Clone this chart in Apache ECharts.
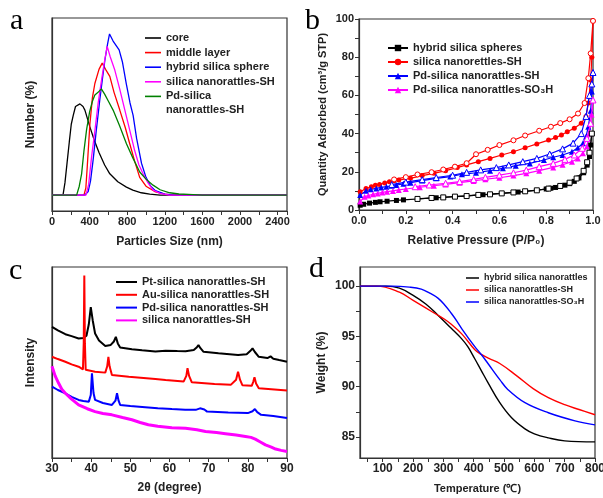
<!DOCTYPE html>
<html>
<head>
<meta charset="utf-8">
<script src="https://cdn.jsdelivr.net/npm/echarts@6/dist/echarts.min.js"></script>
<style>
  html, body { margin: 0; padding: 0; background: #fff; }
  #main { width: 603px; height: 498px; }
</style>
</head>
<body>
<div id="main"></div>
<script>
// ---- panel a : particle size distribution (nm, number %) ----
var sizeCore = [[0,0],[117,0],[138,7],[160,18],[184,30],[205,40],[226,45],[250,50],[297,51.5],[330,50],[350,48],[403,38.5],[450,31],[500,24],[560,17],[615,12],[700,7.5],[792,4.5],[860,2.8],[950,1.3],[1040,0.5],[1150,0],[2500,0]];
var sizeMiddle = [[0,0],[340,0],[360,4],[375,16],[403,40],[430,55],[456,63],[500,71],[534,74.5],[570,71],[615,67],[660,58],[721,48],[780,38],[827,29],[880,19],[933,10],[1000,5],[1093,2],[1200,0.5],[1300,0],[2500,0]];
var sizeHybrid = [[0,0],[350,0],[385,2],[410,8],[438,20],[470,36],[509,54],[535,65],[562,76],[590,85],[612,91],[650,87],[714,82],[750,75],[790,63],[830,52],[863,45],[900,32],[952,18],[1000,10],[1050,5],[1100,2.5],[1200,0.5],[1300,0],[2500,0]];
var sizeSilicaSH = [[0,0],[361,0],[390,6],[421,21.6],[460,38],[491,52],[530,66],[560,76],[587,84],[620,78],[668,70.6],[720,60],[775,48],[830,36],[880,25],[925,17],[969,12],[1020,7],[1075,2.8],[1150,1],[1250,0],[2500,0]];
var sizePdSH = [[0,0],[262,0],[290,5],[315,12],[340,25],[368,37],[400,47],[430,53],[456,56.5],[490,58],[525,60],[560,57],[600,53],[650,48],[720,39],[792,29],[860,21],[933,13],[1000,9],[1075,5.6],[1150,3],[1252,1.3],[1350,0.6],[1500,0.3],[1600,0],[2500,0]];

// ---- panel b : N2 isotherms (P/P0, cm3/g), adsorption + desorption ----
var isoHybridAds = [[0.005,2.5],[0.02,3.0],[0.045,3.6],[0.07,4.0],[0.09,4.3],[0.12,4.6],[0.16,5.0],[0.19,5.3],[0.33,6.4],[0.53,8.0],[0.68,9.4],[0.8,11.0],[0.82,11.4],[0.84,11.8],[0.86,12.3],[0.88,13.0],[0.9,13.8],[0.92,15.0],[0.94,16.8],[0.96,19.5],[0.975,23.5],[0.985,28],[0.99,34],[0.995,40]];
var isoHybridDes = [[0.995,40],[0.985,30],[0.975,25],[0.96,20.5],[0.93,16.5],[0.9,14.3],[0.86,12.6],[0.81,11.2],[0.76,10.3],[0.71,9.8],[0.66,9.2],[0.61,8.7],[0.56,8.2],[0.51,7.9],[0.46,7.3],[0.41,7.0],[0.36,6.6],[0.31,6.3],[0.25,5.8]];
var isoSilicaAds = [[0.005,9.6],[0.03,11.2],[0.053,12.2],[0.07,12.9],[0.088,13.4],[0.11,14.2],[0.13,14.8],[0.15,15.3],[0.17,15.7],[0.22,16.6],[0.27,18.0],[0.32,19.2],[0.37,20.6],[0.42,22.2],[0.46,23.6],[0.51,25.3],[0.56,27.0],[0.61,28.8],[0.66,30.5],[0.71,32.6],[0.76,34.6],[0.81,36.6],[0.84,37.9],[0.865,39.3],[0.89,41.0],[0.92,42.8],[0.95,45.4],[0.97,49],[0.98,56],[0.99,68],[0.995,80],[1.0,99]];
var isoSilicaDes = [[1.0,99],[0.99,82],[0.98,69],[0.964,56],[0.936,50.5],[0.9,47.5],[0.86,45.5],[0.82,43.6],[0.77,41.5],[0.71,39],[0.66,36.5],[0.6,34],[0.55,31.5],[0.5,29.2],[0.46,24.5],[0.41,22.7],[0.36,21.2],[0.31,19.8],[0.25,18.6],[0.2,17.2],[0.15,16.0]];
var isoPdAds = [[0.005,7.9],[0.03,10.1],[0.05,10.8],[0.074,11.3],[0.095,11.8],[0.117,12.2],[0.14,12.7],[0.16,13.1],[0.19,13.7],[0.22,14.3],[0.27,15.4],[0.33,16.6],[0.39,17.5],[0.44,18.7],[0.5,19.5],[0.56,20.6],[0.615,21.8],[0.67,23.2],[0.73,24.4],[0.79,26.2],[0.83,27.6],[0.87,28.8],[0.91,30.5],[0.935,32.6],[0.957,34.9],[0.97,38.4],[0.98,43.6],[0.99,52],[0.995,62],[1.0,72]];
var isoPdDes = [[1.0,72],[0.995,66],[0.985,60],[0.97,49],[0.95,40],[0.915,35],[0.87,32],[0.815,29.3],[0.76,27],[0.7,25.3],[0.64,23.6],[0.587,22.2],[0.52,21],[0.46,19.7],[0.4,18.2],[0.33,17.0],[0.27,15.9],[0.2,14.6],[0.14,13.3]];
var isoSO3HAds = [[0.005,4.4],[0.024,7],[0.04,7.6],[0.06,8.2],[0.08,8.7],[0.1,9.2],[0.12,9.6],[0.145,10],[0.17,10.5],[0.2,11],[0.26,11.9],[0.32,12.7],[0.37,13.4],[0.43,14.3],[0.49,15.2],[0.54,16.1],[0.6,16.9],[0.66,18],[0.715,19.2],[0.77,20.6],[0.83,22.3],[0.87,23.7],[0.91,25.3],[0.935,27],[0.957,29.7],[0.974,33.2],[0.985,40],[0.994,50],[1.0,57.6]];
var isoSO3HDes = [[1.0,57.6],[0.99,45.4],[0.974,37.5],[0.954,32.3],[0.92,28.8],[0.88,26.5],[0.83,24.4],[0.77,22.7],[0.715,20.9],[0.66,19.5],[0.6,18.3],[0.54,17.1],[0.49,16],[0.43,14.9],[0.37,14],[0.3,13.1],[0.24,12.2]];

// ---- panel c : XRD patterns (2theta, arbitrary intensity) ----
var xrdPt = [[30,68.7],[31.5,66.8],[33.4,64.8],[35,63.8],[36.8,62.6],[38,62.8],[38.8,64],[39.4,70],[39.9,79],[40.4,72],[41,65.2],[42,61.5],[43.6,58.6],[45,59.2],[45.8,61],[46.3,63.4],[46.8,60],[47.4,57.9],[50.4,56.9],[53,56.4],[56.4,55.8],[59,56.2],[62,56.0],[64.1,55.9],[66.2,56.5],[67,58],[67.4,59.1],[67.9,57.5],[68.7,55.6],[72.5,54.8],[77.5,53.9],[79.7,54.3],[80.6,56],[81.2,57.4],[81.8,55.5],[82.8,53],[85,52.3],[85.8,53.2],[86.5,52],[88,51.3],[90,50.4]];
var xrdAu = [[30,53],[31.5,51.8],[33.4,50.4],[35,49],[36.8,47.8],[37.9,46.4],[38.1,60],[38.25,95.6],[38.4,60],[38.6,46.2],[41,45.2],[43.6,44.7],[44.1,48],[44.4,53],[44.7,48],[45.3,43.5],[49.6,42.6],[56.4,41.4],[59,40.8],[63.6,40],[64.3,43],[64.6,47],[65,43],[65.7,39.6],[71.5,38.8],[75.7,38.4],[77,41],[77.5,45.2],[78,41],[78.6,38.1],[81,37.8],[81.4,40],[81.7,42.3],[82.1,39],[82.8,36.5],[86,36],[90,35.3]];
var xrdPd = [[30,37.4],[31.5,35.6],[33.4,33.9],[35,32],[36.8,30.4],[38,29.8],[39.4,29.5],[39.9,33],[40.2,44.3],[40.6,34],[41,30.4],[43,28.8],[45.3,27.8],[46.2,30],[46.6,33.9],[47,30],[47.4,27.8],[50,27.2],[53.8,26.6],[57,26],[60.6,25.6],[64,25.3],[66.7,25.2],[67.8,26],[68.3,26.9],[68.9,25.4],[69.6,24.3],[75,23.8],[80,23.5],[81.2,24.5],[81.8,25.6],[82.4,24],[83.4,22.6],[86.5,22],[90,20.9]];
var xrdSilica = [[30,48],[30.8,43],[31.7,39.1],[32.5,36],[33.4,33.9],[35,30.8],[36.8,27.8],[39,25.8],[41,24.3],[43,23.3],[45.3,22.6],[48,21.2],[50.4,20],[52.5,18.6],[54.6,17.4],[57,16.6],[60.6,15.8],[64.1,15.6],[67,14.8],[69.2,13.9],[72,13.3],[74.3,12.7],[77,12.0],[79.4,11.3],[80.8,10.8],[81.9,9.9],[83.2,8.4],[84.5,6.9],[86,5.7],[87.1,4.7],[88.5,4],[90,3.4]];

// ---- panel d : TGA (temperature C, weight %) ----
var tgaHybrid = [[25,100],[110,100],[155,99.8],[199,99.1],[243,98.2],[282,97.1],[326,95.8],[359,94.8],[380,94.0],[403,92.8],[425,91.6],[447,90.4],[486,88.4],[525,86.9],[569,85.8],[600,85.3],[646,84.9],[700,84.6],[800,84.5]];
var tgaSH = [[25,100],[80,100],[155,99.4],[199,98.6],[243,97.8],[282,97.1],[304,96.7],[326,96.2],[362,95.2],[403,93.7],[425,93.2],[450,92.8],[486,92.3],[541,91.1],[596,89.8],[646,88.9],[700,88.2],[750,87.7],[800,87.2]];
var tgaSO3H = [[25,100],[130,100],[188,99.9],[227,99.7],[255,99.3],[282,98.8],[305,98.1],[326,97.3],[345,96.5],[362,95.7],[403,94.0],[425,93.2],[447,92.3],[486,90.7],[513,89.7],[569,88.4],[646,87.4],[734,86.6],[800,86.2]];

var tempLabels = [100, 200, 300, 400, 500, 600, 700, 800];
var tempTicks = [50, 100, 150, 200, 250, 300, 350, 400, 450, 500, 550, 600, 650, 700, 750, 800];
var weightLabels = [85, 90, 95, 100];
var weightTicks = [85, 87.5, 90, 92.5, 95, 97.5, 100];

var FONT = "'Liberation Sans', Arial, sans-serif";
var AXIS_COLOR = '#333';

function lineSeries(name, data, color, gi, width, smooth) {
  return {
    name: name, type: 'line', xAxisIndex: gi, yAxisIndex: gi,
    data: data, symbol: 'none', smooth: smooth || false,
    lineStyle: { color: color, width: width }, itemStyle: { color: color },
    animation: false
  };
}

function isoSeries(name, data, color, symbol, open) {
  return {
    name: name, type: 'line', xAxisIndex: 1, yAxisIndex: 1,
    data: data, symbol: symbol, symbolSize: symbol === 'triangle' ? 6 : 5,
    z: open ? 3 : 2,
    lineStyle: { color: color, width: 1.2 },
    itemStyle: open ? { color: '#fff', borderColor: color, borderWidth: 1 } : { color: color },
    animation: false
  };
}

function xAx(gi, opts) {
  var ax = {
    type: 'value', gridIndex: gi, nameLocation: 'middle',
    splitLine: { show: false },
    axisLine: { onZero: false, lineStyle: { color: AXIS_COLOR, width: 1.2 } },
    axisTick: { length: 4, lineStyle: { color: AXIS_COLOR } },
    axisLabel: { color: '#222', fontWeight: 'bold', fontFamily: FONT, fontSize: 11, margin: 5 },
    nameTextStyle: { color: '#222', fontWeight: 'bold', fontFamily: FONT, fontSize: 12 }
  };
  return Object.assign(ax, opts);
}

var grids = [
  { left: 52, top: 18, width: 235, height: 193 },
  { left: 359, top: 19, width: 234, height: 191 },
  { left: 52, top: 267, width: 235, height: 191 },
  { left: 360, top: 267, width: 235, height: 191 }
].map(function (g) {
  return Object.assign({ show: true, borderColor: AXIS_COLOR, borderWidth: 1.2, outerBoundsMode: 'none', containLabel: false }, g);
});

var letterStyle = { fontFamily: "'Liberation Serif', 'Times New Roman', serif", fontSize: 30, fontWeight: 'normal', color: '#000' };

var option = {
  backgroundColor: '#fff',
  animation: false,
  title: [
    { text: 'a', left: 10, top: 6, padding: 0, textStyle: letterStyle },
    { text: 'b', left: 305, top: 6, padding: 0, textStyle: letterStyle },
    { text: 'c', left: 9, top: 256, padding: 0, textStyle: letterStyle },
    { text: 'd', left: 309, top: 254, padding: 0, textStyle: letterStyle }
  ],
  grid: grids,
  xAxis: [
    xAx(0, { min: 0, max: 2500, interval: 200, name: 'Particles Size (nm)', nameGap: 25,
      axisLabel: { color: '#222', fontWeight: 'bold', fontFamily: FONT, fontSize: 11, margin: 5,
        formatter: function (v) { return v % 400 === 0 ? String(v) : ''; } } }),
    xAx(1, { min: 0, max: 1, interval: 0.1, name: 'Relative Pressure (P/P\u2080)', nameGap: 25,
      axisLabel: { color: '#222', fontWeight: 'bold', fontFamily: FONT, fontSize: 11, margin: 5,
        formatter: function (v) { return Math.round(v * 10) % 2 === 0 ? v.toFixed(1) : ''; } } }),
    xAx(2, { min: 30, max: 90, interval: 5, name: '2\u03b8 (degree)', nameGap: 24,
      axisLabel: { color: '#222', fontWeight: 'bold', fontFamily: FONT, fontSize: 12, margin: 5,
        formatter: function (v) { return v % 10 === 0 ? String(v) : ''; } } }),
    xAx(3, { min: 25, max: 800, name: 'Temperature (\u2103)', nameGap: 25,
      axisTick: { length: 4, customValues: tempTicks, lineStyle: { color: AXIS_COLOR } },
      axisLabel: { color: '#222', fontWeight: 'bold', fontFamily: FONT, fontSize: 12, margin: 5, customValues: tempLabels },
      nameTextStyle: { color: '#222', fontWeight: 'bold', fontFamily: FONT, fontSize: 11, letterSpacing: 1 } })
  ],
  yAxis: [
    xAx(0, { min: -9, max: 100, name: 'Number (%)', nameGap: 15,
      axisTick: { show: false }, axisLabel: { show: false } }),
    xAx(1, { min: 0, max: 100, interval: 10, name: 'Quantity Adsorbed (cm\u00b3/g STP)', nameGap: 31,
      axisLabel: { color: '#222', fontWeight: 'bold', fontFamily: FONT, fontSize: 11, margin: 5,
        formatter: function (v) { return v % 20 === 0 ? String(v) : ''; } },
      nameTextStyle: { color: '#222', fontWeight: 'bold', fontFamily: FONT, fontSize: 11 } }),
    xAx(2, { min: 0, max: 100, name: 'Intensity', nameGap: 15,
      axisTick: { show: false }, axisLabel: { show: false } }),
    xAx(3, { min: 82.9, max: 101.9, name: 'Weight (%)', nameGap: 32,
      axisTick: { length: 4, customValues: weightTicks, lineStyle: { color: AXIS_COLOR } },
      axisLabel: { color: '#222', fontWeight: 'bold', fontFamily: FONT, fontSize: 12, margin: 5, customValues: weightLabels } })
  ],
  legend: [
    { data: ['core', 'middle layer', 'hybrid silica sphere', 'silica nanorattles-SH', 'Pd-silica nanorattles-SH'],
      orient: 'vertical', left: 145, top: 32, padding: 0, icon: 'rect', itemWidth: 16, itemHeight: 1.6, itemGap: 2.6,
      formatter: function (n) { return n === 'Pd-silica nanorattles-SH' ? 'Pd-silica' : n; },
      textStyle: { fontFamily: FONT, fontWeight: 'bold', fontSize: 11, color: '#222', lineHeight: 12 } },
    { data: ['hybrid silica spheres', 'silica nanorettles-SH', 'Pd-silica nanorattles-SH ', 'Pd-silica nanorattles-SO\u2083H'],
      orient: 'vertical', left: 387, top: 42, padding: 0, itemWidth: 20, itemHeight: 8, itemGap: 2,
      textStyle: { fontFamily: FONT, fontWeight: 'bold', fontSize: 11, color: '#222', lineHeight: 12 } },
    { data: ['Pt-silica nanorattles-SH', 'Au-silica nanorattles-SH', 'Pd-silica nanorattles-SH  ', 'silica nanorattles-SH '],
      orient: 'vertical', left: 116, top: 276, padding: 0, icon: 'rect', itemWidth: 21, itemHeight: 2, itemGap: 0.8,
      textStyle: { fontFamily: FONT, fontWeight: 'bold', fontSize: 11, color: '#222', lineHeight: 12 } },
    { data: ['hybrid silica nanorattles', 'silica nanorattles-SH  ', 'silica nanorattles-SO\u2083H'],
      orient: 'vertical', left: 466, top: 273, padding: 0, icon: 'rect', itemWidth: 13, itemHeight: 1.5, itemGap: 2,
      textStyle: { fontFamily: FONT, fontWeight: 'bold', fontSize: 9, color: '#222', lineHeight: 10 } }
  ],
  graphic: [
    { type: 'text', left: 166, top: 104, style: { text: 'nanorattles-SH', fill: '#222',
      font: "bold 11px 'Liberation Sans', Arial, sans-serif" } }
  ],
  series: [
    lineSeries('core', sizeCore, '#000000', 0, 1.3),
    lineSeries('middle layer', sizeMiddle, '#ff0000', 0, 1.3),
    lineSeries('hybrid silica sphere', sizeHybrid, '#0000ff', 0, 1.3),
    lineSeries('silica nanorattles-SH', sizeSilicaSH, '#ff00ff', 0, 1.3),
    lineSeries('Pd-silica nanorattles-SH', sizePdSH, '#008000', 0, 1.3),

    isoSeries('hybrid silica spheres', isoHybridAds, '#000000', 'rect', false),
    isoSeries('silica nanorettles-SH', isoSilicaAds, '#ff0000', 'circle', false),
    isoSeries('Pd-silica nanorattles-SH ', isoPdAds, '#0000ff', 'triangle', false),
    isoSeries('Pd-silica nanorattles-SO\u2083H', isoSO3HAds, '#ff00ff', 'triangle', false),
    isoSeries('hybrid silica spheres des', isoHybridDes, '#000000', 'rect', true),
    isoSeries('silica nanorettles-SH des', isoSilicaDes, '#ff0000', 'circle', true),
    isoSeries('Pd-silica nanorattles-SH des', isoPdDes, '#0000ff', 'triangle', true),
    isoSeries('Pd-silica nanorattles-SO3H des', isoSO3HDes, '#ff00ff', 'triangle', true),

    lineSeries('Pt-silica nanorattles-SH', xrdPt, '#000000', 2, 2),
    lineSeries('Au-silica nanorattles-SH', xrdAu, '#ff0000', 2, 2),
    lineSeries('Pd-silica nanorattles-SH  ', xrdPd, '#0000ff', 2, 2),
    lineSeries('silica nanorattles-SH ', xrdSilica, '#ff00ff', 2, 3),

    lineSeries('hybrid silica nanorattles', tgaHybrid, '#000000', 3, 1.4, 0.4),
    lineSeries('silica nanorattles-SH  ', tgaSH, '#ff0000', 3, 1.4, 0.4),
    lineSeries('silica nanorattles-SO\u2083H', tgaSO3H, '#0000ff', 3, 1.4, 0.4)
  ]
};

var chart = echarts.init(document.getElementById('main'));
chart.setOption(option);
</script>
</body>
</html>
